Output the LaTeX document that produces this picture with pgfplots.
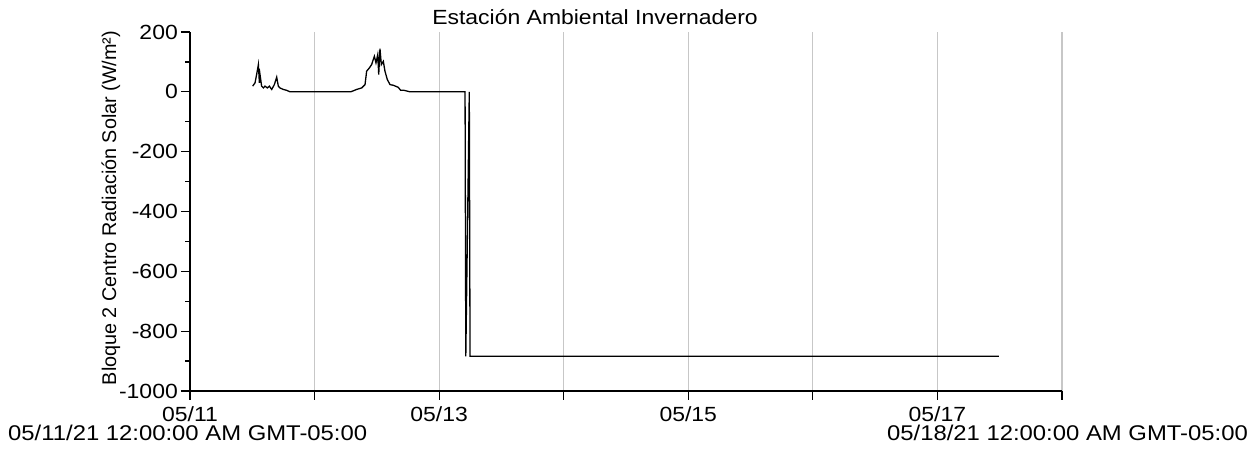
\documentclass[border=0pt]{standalone}
\usepackage{pgfplots}
\pgfplotsset{compat=1.18}
\usepackage{fontspec}
\setmainfont[FakeStretch=1.12]{Liberation Sans}
\newfontfamily\ylabfont{Liberation Sans}
\newcommand\lab{\fontsize{20.5}{24}\selectfont}
\newcommand\blab{\fontsize{21.3}{24}\selectfont}
\begin{document}
\begin{tikzpicture}[x=1pt,y=1pt]
\useasboundingbox (0,0) rectangle (1255,449);
\begin{axis}[
  at={(190pt,58pt)}, anchor=south west,
  scale only axis, width=872pt, height=359pt,
  xmin=0, xmax=7, ymin=-1000, ymax=200,
  axis x line=bottom, axis y line=left,
  axis line style={-, black, line width=1.2pt},
  xtick={0,1,2,3,4,5,6,7},
  xticklabels={05/11,,05/13,,05/15,,05/17,},
  ytick={-1000,-800,-600,-400,-200,0,200},
  minor y tick num=1,
  tick align=outside,
  major tick length=9pt, minor tick length=5pt,
  tick style={black, line width=1.2pt},
  xmajorgrids, grid style={black!22, line width=1.2pt},
  /pgf/number format/assume math mode=true,
  /pgf/number format/1000 sep={},
  ticklabel style={font=\lab},
  yticklabel style={inner sep=0pt, xshift=-3pt},
  xticklabel style={inner sep=0pt, yshift=-6.5pt},
  clip=false,
]
\addplot[black, line width=1.3pt] coordinates {
(0.503,19) (0.522,30) (0.535,58) (0.549,91) (0.557,30) (0.562,58) (0.575,19)
(0.589,13) (0.602,19) (0.621,13) (0.637,19) (0.656,8) (0.677,24) (0.696,49)
(0.709,19) (0.722,13) (0.749,8) (0.776,5) (0.803,0)
(1.290,0) (1.338,8) (1.378,13) (1.405,24) (1.418,69) (1.440,80) (1.458,91)
(1.480,119) (1.493,97) (1.507,124) (1.515,58) (1.525,144) (1.536,91)
(1.552,102) (1.565,69) (1.584,41) (1.606,24) (1.632,22) (1.672,15)
(1.691,5) (1.718,5) (1.766,0)
(2.208,0) (2.214,-884) (2.242,0) (2.248,-884) (6.494,-884)
};
\end{axis}
\node[anchor=base, font=\lab, inner sep=0pt] at (595,424) {Estación Ambiental Invernadero};
\node[rotate=90, font=\ylabfont\fontsize{19.8}{24}\selectfont, inner sep=0pt] at (111,241) {Bloque 2 Centro Radiación Solar (W/m²)};
\node[anchor=base west, font=\blab, inner sep=0pt] at (8,8) {05/11/21 12:00:00 AM GMT-05:00};
\node[anchor=base east, font=\blab, inner sep=0pt] at (1248,8) {05/18/21 12:00:00 AM GMT-05:00};
\end{tikzpicture}
\end{document}
